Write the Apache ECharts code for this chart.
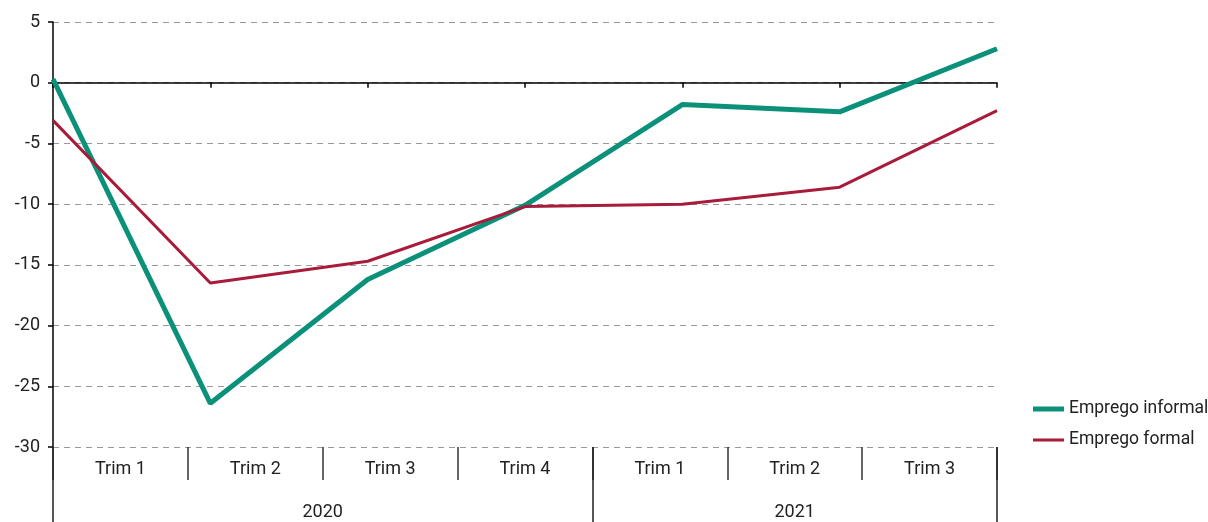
<!DOCTYPE html>
<html>
<head>
<meta charset="utf-8">
<script src="https://cdn.jsdelivr.net/npm/echarts@6/dist/echarts.min.js"></script>
<style>html,body{margin:0;padding:0;background:#fff}#c{width:1208px;height:522px}</style>
</head>
<body>
<div id="c"></div>
<script>
var quarters = ['Trim 1', 'Trim 2', 'Trim 3', 'Trim 4', 'Trim 1', 'Trim 2', 'Trim 3'];
var years = ['2020', '2021'];
var yearSpans = [4, 3];
var informal = [0.3, -26.4, -16.2, -10.1, -1.8, -2.4, 2.8];
var formal = [-3.1, -16.5, -14.7, -10.2, -10.0, -8.6, -2.3];
var yTicks = { min: -30, max: 5, interval: 5 };

var FONT = '"Roboto", sans-serif';
var GREEN = '#0b917a', RED = '#a81b3b';

var yearBounds = [0], yearCenters = [], acc = 0;
yearSpans.forEach(function (s) { yearCenters.push(acc + s / 2); acc += s; yearBounds.push(acc); });

var chart = echarts.init(document.getElementById('c'));
chart.setOption({
  animation: false,
  grid: { left: 53, right: 211, top: 22, bottom: 75, containLabel: false },
  legend: {
    orient: 'vertical', left: 1033, top: 399, itemGap: 11, padding: 0,
    itemWidth: 31, itemHeight: 20,
    textStyle: { fontFamily: FONT, fontSize: 17.5, color: '#222' },
    data: [
      { name: 'Emprego informal', icon: 'path://M0,0 M0,20 M0,7.5 L31,7.5 L31,12.5 L0,12.5 Z', itemStyle: { color: GREEN } },
      { name: 'Emprego formal', icon: 'path://M0,0 M0,20 M0,8.5 L31,8.5 L31,11.5 L0,11.5 Z', itemStyle: { color: RED } }
    ]
  },
  xAxis: [
    {
      type: 'category', data: quarters, boundaryGap: false,
      axisLine: { onZero: true, lineStyle: { color: '#000', width: 1.5 } },
      axisTick: { show: true, length: 5, lineStyle: { color: '#000', width: 1.5 } },
      axisLabel: { show: false }, splitLine: { show: false }
    },
    {
      type: 'category', data: quarters, boundaryGap: true, position: 'bottom',
      axisLine: { show: false, onZero: false },
      axisTick: { show: true, interval: 0, length: 33, lineStyle: { color: '#333', width: 1.5 } },
      axisLabel: { interval: 0, margin: 13, fontFamily: FONT, fontSize: 18, color: '#222' },
      splitLine: { show: false }
    },
    {
      type: 'value', min: 0, max: quarters.length, position: 'bottom',
      axisLine: { show: false, onZero: false },
      axisTick: { show: true, customValues: yearBounds, length: 75, lineStyle: { color: '#222', width: 1.5 } },
      axisLabel: {
        customValues: yearCenters, margin: 56, fontFamily: FONT, fontSize: 18, color: '#222',
        formatter: function (v) { var i = yearCenters.indexOf(v); return i >= 0 ? years[i] : ''; }
      },
      splitLine: { show: false }
    }
  ],
  yAxis: {
    type: 'value', min: yTicks.min, max: yTicks.max, interval: yTicks.interval,
    axisLine: { show: true, lineStyle: { color: '#000', width: 1.5 } },
    axisTick: { show: true, length: 5, lineStyle: { color: '#000', width: 1.5 } },
    axisLabel: { margin: 13, fontFamily: FONT, fontSize: 18, color: '#222' },
    splitLine: { show: true, lineStyle: { color: '#999', type: [6, 5], width: 1 } }
  },
  series: [
    {
      name: 'Emprego informal', type: 'line', data: informal, xAxisIndex: 0,
      symbol: 'none', lineStyle: { color: GREEN, width: 5 }, itemStyle: { color: GREEN }
    },
    {
      name: 'Emprego formal', type: 'line', data: formal, xAxisIndex: 0,
      symbol: 'none', lineStyle: { color: RED, width: 3 }, itemStyle: { color: RED }
    }
  ]
});
</script>
</body>
</html>
